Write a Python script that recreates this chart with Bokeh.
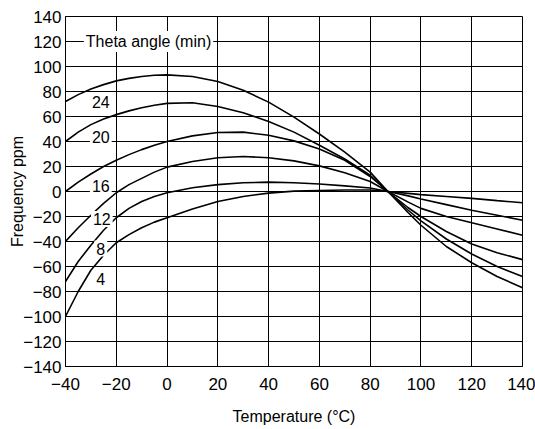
from bokeh.plotting import figure
from bokeh.models import Range1d, FixedTicker, Label
from bokeh.embed import file_html
from bokeh.resources import INLINE

# ---- data ----
temps = [-40, -35, -30, -25, -20, -15, -10, -5, 0, 10, 20, 30, 40, 50, 60, 70, 80, 87, 95, 100, 110, 120, 130, 140]

theta_24 = [72, 77.5, 82, 85.5, 88.5, 90.5, 92, 93, 93.3, 92, 88, 81, 71.5, 59.5, 46, 31.5, 15.5, 0, -17, -27, -44, -57, -68, -77]
theta_20 = [40, 47.5, 53.5, 58, 61.5, 64.5, 67, 69, 70.5, 71, 68, 63, 56, 47.5, 37, 26, 13, 0, -15, -23.5, -38, -50, -60, -68]
theta_16 = [0, 7.5, 14, 20, 25, 29.5, 33.5, 37, 40, 44.5, 47.2, 47.5, 45, 40.5, 34, 25, 12, 0, -13, -20, -32, -42, -49, -54.5]
theta_12 = [-40, -29, -19, -9.5, -1, 5.5, 10.5, 15.5, 19.5, 24, 27, 28, 27, 24.5, 20.5, 15, 8, 0, -8.5, -13.5, -20, -25, -30, -35]
theta_8 = [-72, -56, -43, -31, -21, -13.5, -8, -4, -1, 3, 5.5, 7, 7.5, 7, 6, 4.5, 2.8, 0, -3.5, -6, -10.5, -15, -19, -23]
theta_4 = [-100, -80, -63, -51, -41, -34.5, -29, -24.5, -21, -14, -8, -4, -1.3, 0.3, 0.8, 1.2, 1.2, 0, -1.5, -2.5, -4, -5.5, -7.3, -9]

series = [theta_24, theta_20, theta_16, theta_12, theta_8, theta_4]
curve_names = ["24", "20", "16", "12", "8", "4"]

x_ticks = [-40, -20, 0, 20, 40, 60, 80, 100, 120, 140]
x_tick_labels = ["\u221240", "\u221220", "0", "20", "40", "60", "80", "100", "120", "140"]
y_ticks = [-140, -120, -100, -80, -60, -40, -20, 0, 20, 40, 60, 80, 100, 120, 140]
y_tick_labels = ["\u2212140", "\u2212120", "\u2212100", "\u221280", "\u221260", "\u221240", "\u221220",
                 "0", "20", "40", "60", "80", "100", "120", "140"]

legend_title = "Theta angle (min)"
x_title = "Temperature (\u00b0C)"
y_title = "Frequency ppm"

# label placement (layout)
label_pos = [(-26.1, 71.6), (-26.1, 44.0), (-26.1, 4.7), (-25.7, -22.0), (-26.1, -45.6), (-26.1, -70.0)]
title_pos = (-7.3, 120)

FONT = "Liberation Sans"

p = figure(width=535, height=429, output_backend="svg", toolbar_location=None,
           x_range=Range1d(-40, 140), y_range=Range1d(-140, 140),
           min_border_left=65, min_border_right=13, min_border_top=16, min_border_bottom=63)

p.background_fill_color = "white"
p.border_fill_color = "white"
p.outline_line_color = "black"
p.outline_line_width = 1

for ax, ticks, labels in ((p.xaxis, x_ticks, x_tick_labels), (p.yaxis, y_ticks, y_tick_labels)):
    ax.ticker = FixedTicker(ticks=ticks)
    ax.major_label_overrides = dict(zip(ticks, labels))
    ax.major_tick_in = 0
    ax.major_tick_out = 0
    ax.minor_tick_in = 0
    ax.minor_tick_out = 0
    ax.axis_line_color = "black"
    ax.axis_line_width = 1
    ax.major_label_text_font = FONT
    ax.major_label_text_font_size = "17px"
    ax.major_label_text_color = "black"
    ax.axis_label_text_font = FONT
    ax.axis_label_text_font_size = "16px"
    ax.axis_label_text_font_style = "normal"
    ax.axis_label_text_color = "black"

p.xaxis.axis_label = x_title
p.yaxis.axis_label = y_title
p.xaxis.major_label_standoff = 11
p.xaxis.axis_label_standoff = 15
p.yaxis.major_label_standoff = 4
p.yaxis.axis_label_standoff = -6

p.xgrid.ticker = FixedTicker(ticks=x_ticks)
p.ygrid.ticker = FixedTicker(ticks=y_ticks)
for g in (p.xgrid, p.ygrid):
    g.grid_line_color = "black"
    g.grid_line_width = 1
    g.grid_line_alpha = 1

for ys in series:
    p.line(temps, ys, line_color="black", line_width=1.6)

for name, (lx, ly) in zip(curve_names, label_pos):
    p.add_layout(Label(x=lx, y=ly, text=name, text_align="center", text_baseline="middle",
                       text_font=FONT, text_font_size="16px", text_color="black",
                       background_fill_color="white", padding=2))

p.add_layout(Label(x=title_pos[0], y=title_pos[1], text=legend_title, text_align="center",
                   text_baseline="middle", text_font=FONT, text_font_size="16px",
                   text_color="black", background_fill_color="white", padding=2))

open("out.html", "w").write(file_html(p, INLINE))
